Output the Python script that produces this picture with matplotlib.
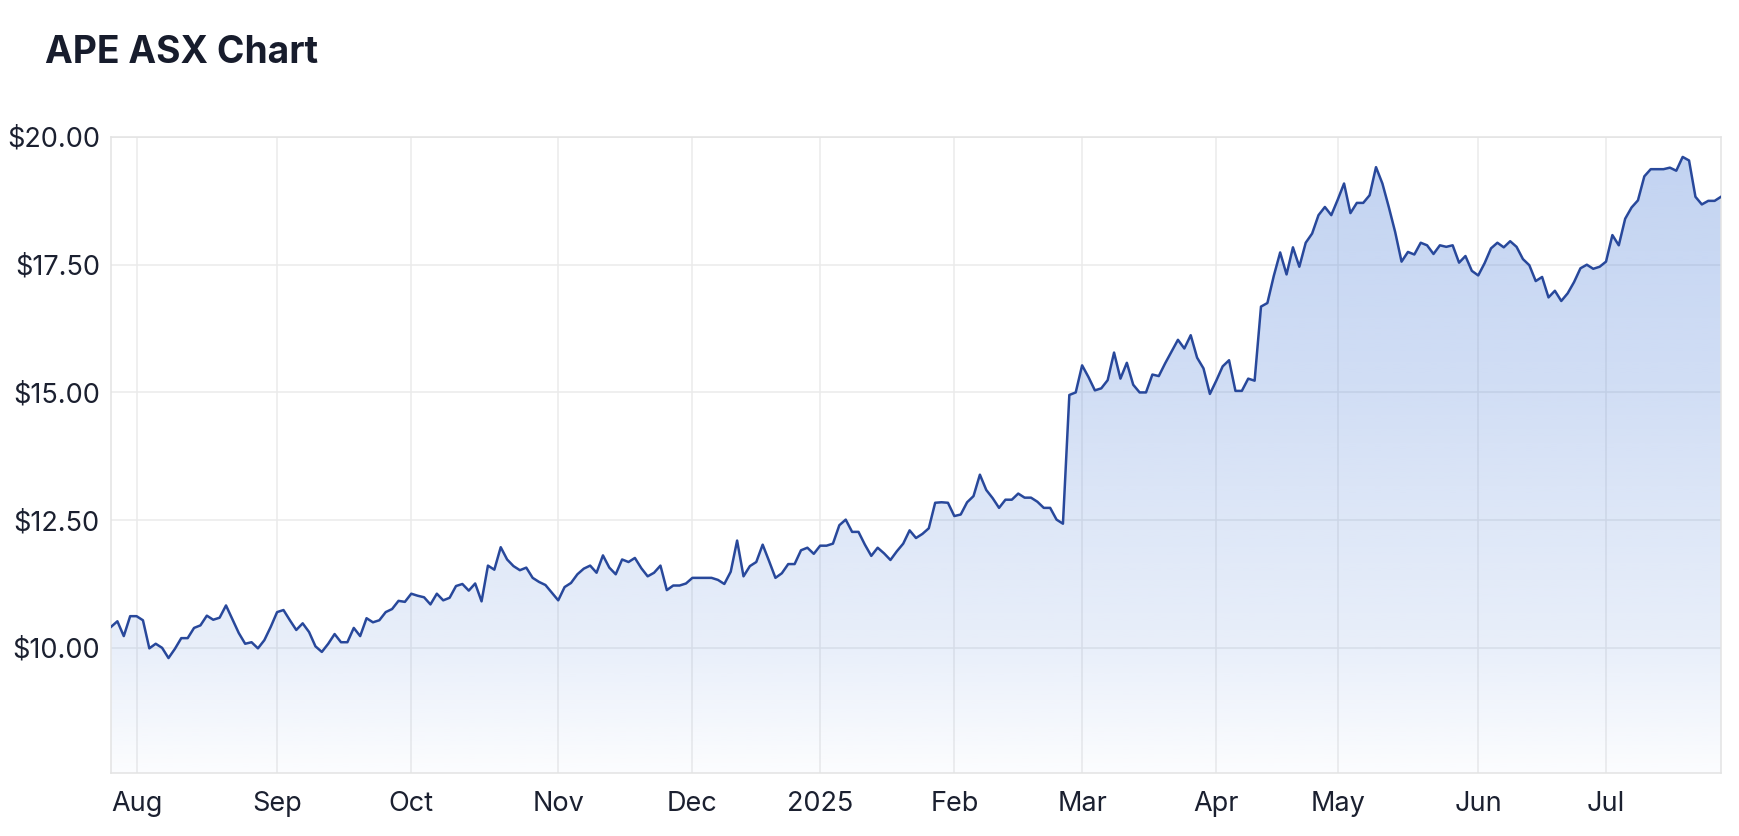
import matplotlib
matplotlib.use("Agg")
import matplotlib.pyplot as plt
from matplotlib.colors import ListedColormap
from matplotlib.patches import Polygon
import numpy as np
import pandas as pd

# ASX closing prices, one per trading day (26 Jul 2024 - 25 Jul 2025)
prices = [
    10.41, 10.52, 10.23, 10.62, 10.62, 10.54, 9.99, 10.08, 10.00, 9.80,
    9.98, 10.19, 10.19, 10.39, 10.44, 10.63, 10.55, 10.59, 10.83, 10.56,
    10.29, 10.08, 10.11, 9.99, 10.15, 10.41, 10.70, 10.74, 10.54, 10.35,
    10.48, 10.31, 10.03, 9.92, 10.08, 10.27, 10.11, 10.11, 10.39, 10.23,
    10.58, 10.50, 10.54, 10.70, 10.76, 10.92, 10.90,
    11.06, 11.02, 10.99, 10.85, 11.06, 10.93, 10.98, 11.21, 11.25, 11.12,
    11.26, 10.91, 11.61, 11.53, 11.97, 11.73, 11.60, 11.52, 11.57, 11.37,
    11.29, 11.23, 11.08, 10.93, 11.19, 11.27, 11.44, 11.55, 11.61, 11.47,
    11.81, 11.57, 11.44, 11.73, 11.68, 11.76, 11.56, 11.40, 11.47, 11.61,
    11.13, 11.22, 11.22, 11.26, 11.37,
    11.37, 11.37, 11.37, 11.33, 11.25, 11.49, 12.10, 11.40, 11.60, 11.68,
    12.02, 11.70, 11.37, 11.46, 11.64, 11.64, 11.91, 11.96, 11.84, 12.00,
    12.00, 12.04, 12.40, 12.51, 12.27, 12.27, 12.02, 11.80, 11.96, 11.85,
    11.72, 11.89, 12.04, 12.30, 12.15, 12.23, 12.34, 12.84, 12.85, 12.84,
    12.58, 12.61,
    12.85, 12.97, 13.39, 13.09, 12.93, 12.74, 12.90, 12.90, 13.02, 12.94,
    12.94, 12.86, 12.74, 12.74, 12.51, 12.43, 14.95, 15.00, 15.53, 15.30,
    15.04, 15.08, 15.24, 15.78, 15.27, 15.58, 15.15, 15.00, 15.00, 15.35,
    15.32, 15.57, 15.80, 16.03, 15.86, 16.12, 15.68, 15.47, 14.97, 15.23,
    15.51, 15.63, 15.03, 15.03, 15.27, 15.23, 16.68, 16.75, 17.28, 17.74,
    17.31, 17.84, 17.46, 17.93, 18.11, 18.47, 18.63, 18.47, 18.77, 19.09,
    18.51, 18.71, 18.71, 18.86, 19.41, 19.09, 18.63, 18.14, 17.56, 17.75,
    17.70, 17.93, 17.88, 17.71, 17.88, 17.85, 17.88, 17.54, 17.67, 17.38,
    17.29, 17.53, 17.82,
    17.93, 17.84, 17.96, 17.85, 17.61, 17.49, 17.18, 17.26, 16.86, 16.99,
    16.79, 16.94, 17.16, 17.43, 17.50, 17.42, 17.46, 17.56, 18.08, 17.88,
    18.40, 18.62, 18.76, 19.23, 19.37, 19.37, 19.37, 19.40, 19.34, 19.61,
    19.54, 18.83, 18.68, 18.75, 18.75, 18.83,
]
asx_holidays = ["2024-12-25", "2024-12-26", "2025-01-01", "2025-01-27",
                "2025-04-18", "2025-04-21", "2025-04-25", "2025-06-09"]
y_ticks = [10.0, 12.5, 15.0, 17.5, 20.0]
title = "APE ASX Chart"

dates = pd.bdate_range("2024-07-26", "2025-07-25")
dates = dates[~dates.isin(pd.to_datetime(asx_holidays))]
x = np.arange(len(prices))

# first trading day of each month -> tick
tick_pos, tick_lab = [], []
for i in range(1, len(dates)):
    if dates[i].month != dates[i - 1].month:
        tick_pos.append(i)
        tick_lab.append(str(dates[i].year) if dates[i].month == 1 else dates[i].strftime("%b"))

plt.rcParams["font.family"] = ["Inter", "DejaVu Sans"]
text_col = "#1b2030"
line_col = "#28489b"
grid_col = "#ebebeb"
ymin, ymax = 7.55, 20.0

fig = plt.figure(figsize=(17.4, 8.36), dpi=100)
ax = fig.add_axes([111 / 1740, 1 - 773 / 836, (1721 - 111) / 1740, (773 - 137) / 836])

# gradient fill under the line
t = np.linspace(0, 1, 256)
alpha = np.interp(t, [0, 0.2, 0.4, 0.6, 1.0], [0.02, 0.13, 0.19, 0.26, 0.35])
rgba = np.zeros((256, 4))
rgba[:, :3] = np.array([79, 128, 216]) / 255
rgba[:, 3] = alpha
cmap = ListedColormap(rgba)
grad = ax.imshow(t.reshape(-1, 1), cmap=cmap, aspect="auto", origin="lower",
                 extent=[x[0], x[-1], ymin, ymax], zorder=1, interpolation="bilinear")
verts = [(x[0], ymin)] + list(zip(x, prices)) + [(x[-1], ymin)]
clip = Polygon(verts, closed=True, facecolor="none", edgecolor="none", transform=ax.transData)
ax.add_patch(clip)
grad.set_clip_path(clip)

ax.plot(x, prices, color=line_col, linewidth=1.8, zorder=3)

ax.set_xlim(x[0], x[-1])
ax.set_ylim(ymin, ymax)
ax.set_xticks(tick_pos)
ax.set_xticklabels(tick_lab)
ax.set_yticks(y_ticks)
ax.set_yticklabels([f"${v:.2f}" for v in y_ticks])
ax.grid(True, color=grid_col, linewidth=1.1, zorder=0)
ax.set_axisbelow(True)
ax.tick_params(length=0, labelsize=19.5, labelcolor=text_col)
ax.tick_params(axis="x", pad=13)
ax.tick_params(axis="y", pad=8)
for s in ax.spines.values():
    s.set_color("#e3e3e3")
    s.set_linewidth(1.1)

fig.text(45 / 1740, 1 - 53 / 836, title, fontsize=26.8, fontweight="bold",
         color="#171c2c", va="center", ha="left")

fig.savefig("out.png", dpi=100, facecolor="white")
